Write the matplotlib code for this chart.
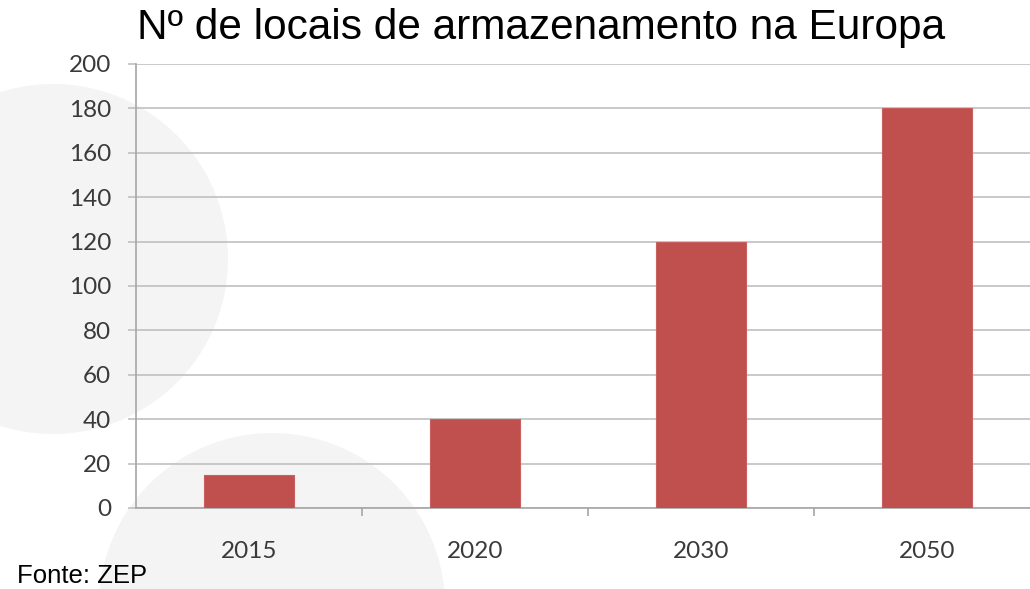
import matplotlib.pyplot as plt
from matplotlib.patches import Circle

# data
years = ["2015", "2020", "2030", "2050"]
sites = [15, 40, 120, 180]
yticks = [0, 20, 40, 60, 80, 100, 120, 140, 160, 180, 200]

W, H = 1030, 589
fig = plt.figure(figsize=(W / 100, H / 100), dpi=100)
fig.patch.set_facecolor("white")

# background decoration (light grey discs), in pixel coordinates
bg = fig.add_axes([0, 0, 1, 1], zorder=0)
bg.set_xlim(0, W)
bg.set_ylim(H, 0)
bg.axis("off")
bg.add_patch(Circle((53, 259), 175, color="#f4f4f4", lw=0))
bg.add_patch(Circle((272, 606), 173, color="#f4f4f4", lw=0))

# main axes
left, bottom = 136 / W, (H - 508) / H
ax = fig.add_axes([left, bottom, (1040 - 136) / W, 444 / H], zorder=1)
ax.patch.set_alpha(0)

x = range(len(years))
ax.bar(x, sites, width=0.4, color="#c0504d", edgecolor="#c8605d", lw=0.8, zorder=3)

ax.set_xlim(-0.5, 3.5)
ax.set_ylim(0, 200)
ax.set_yticks(yticks)
ax.yaxis.grid(True, color="#c0c0c0", lw=1.2, zorder=0)
ax.set_axisbelow(True)

for s in ["top", "right"]:
    ax.spines[s].set_visible(False)
ax.spines["left"].set_color("#a6a6a6")
ax.spines["bottom"].set_color("#a6a6a6")
ax.spines["left"].set_linewidth(1.2)
ax.spines["bottom"].set_linewidth(1.2)

ax.tick_params(axis="y", length=6, width=1.2, color="#c0c0c0", pad=12,
               labelsize=17.5, labelcolor="#3a3a3a")
for lab in ax.get_yticklabels():
    lab.set_fontfamily("Lato")

# category boundaries as major ticks, labels on minor ticks at the centres
ax.set_xticks([0.5, 1.5, 2.5])
ax.set_xticklabels([])
ax.tick_params(axis="x", which="major", length=6, width=1.2, color="#a6a6a6")
ax.set_xticks(list(x), minor=True)
ax.set_xticklabels(years, minor=True, fontfamily="Lato")
ax.tick_params(axis="x", which="minor", length=0, pad=24,
               labelsize=17.5, labelcolor="#3a3a3a")

fig.text(541 / W, 1 - 28 / H, "Nº de locais de armazenamento na Europa",
         ha="center", va="center", fontsize=30.5, family="Liberation Sans",
         color="black")
fig.text(17 / W, 1 - 576 / H, "Fonte: ZEP", ha="left", va="center",
         fontsize=18.5, family="Liberation Sans", color="black")

fig.savefig("out.png", dpi=100)
